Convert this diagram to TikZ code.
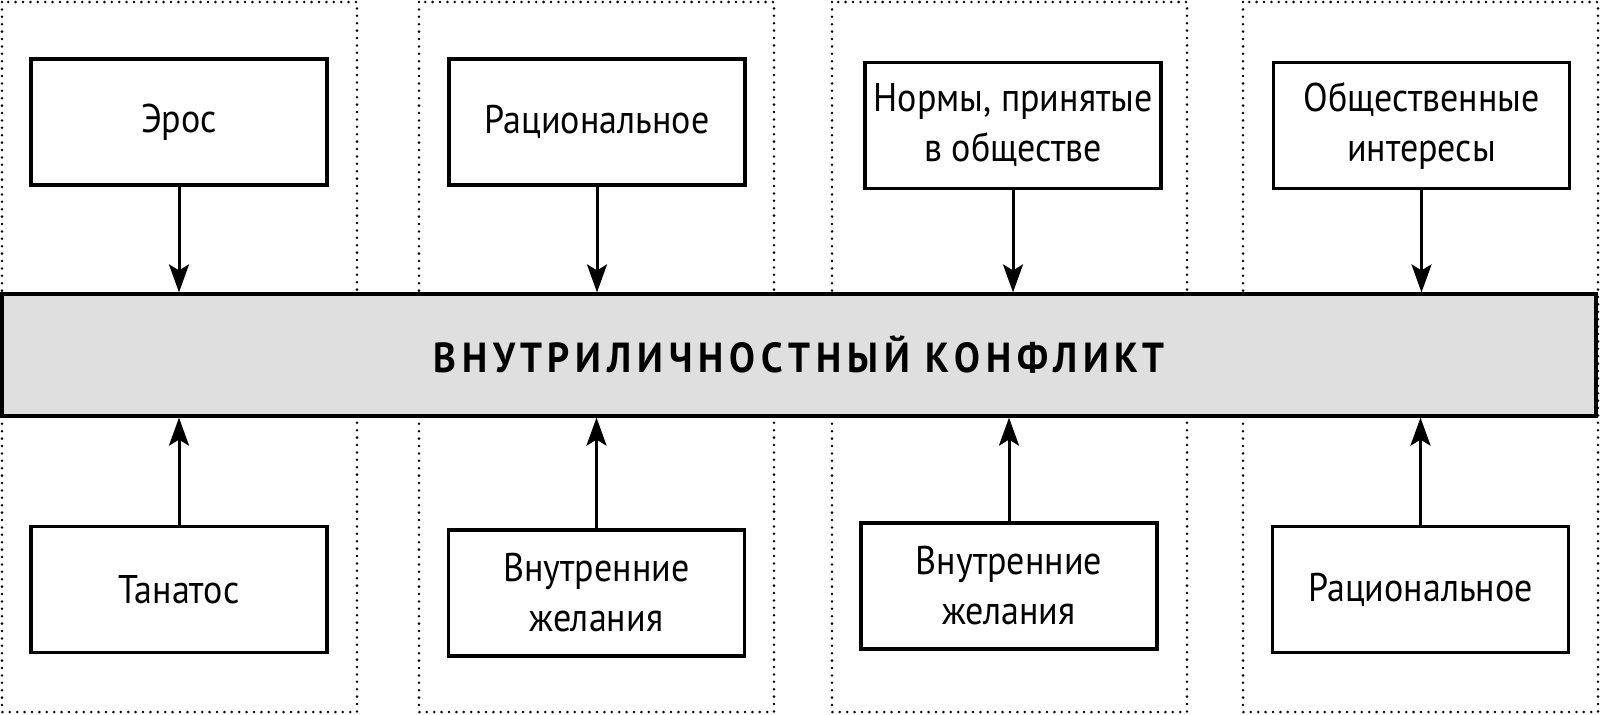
\documentclass[tikz,border=0pt]{standalone}
\usepackage{fontspec}
\setmainfont{PT Sans}[FakeStretch=0.9]
\newfontfamily\barfont{PT Sans}[FakeStretch=0.92,LetterSpace=14]
\usetikzlibrary{arrows.meta}

\begin{document}
\begin{tikzpicture}[x=0.5pt,y=-0.5pt]
  \tikzset{ItemStyle/.style = {shape          = rectangle,
                               draw, line width=1.8pt,
                               text           = black,
                               align          = center,
                               inner sep      = 0pt,
                               minimum width  = 148pt,
                               minimum height = 63pt,
                               font           = \fontsize{20}{25}\selectfont}}
  \tikzset{ConflictStyle/.style = {shape          = rectangle,
                                   draw, line width=1.6pt,
                                   fill           = barGray,
                                   minimum width  = 797pt,
                                   minimum height = 61pt,
                                   font           = \barfont\bfseries\fontsize{21}{25}\selectfont}}
  \tikzset{FrameStyle/.style = {draw=black, line width=1.4pt, line cap=round, dash pattern=on 0pt off 3.7pt}}
  \tikzset{ArrowStyle/.style = {line width=1.5pt, -{Stealth[length=14pt,width=10pt,inset=3pt]}}}
  \definecolor{barGray}{HTML}{DFDFDF}
  \useasboundingbox (0,0) rectangle (1600,714);
  %%% COLONNES %%%
  \foreach \x in {2,419,832,1243}
    \draw[FrameStyle] (\x,2) rectangle ++(355,710);
  %%% CONFLIT %%%
  \node[ConflictStyle] (conflict) at (799,355) {ВНУТРИЛИЧНОСТНЫЙ КОНФЛИКТ};
  %%% EN HAUT %%%
  \node[ItemStyle] (eros) at (179,122) {Эрос};
  \node[ItemStyle] (ratio1) at (597,122) {Рациональное};
  \node[ItemStyle] (norms) at (1013,125.5) {Нормы, принятые\\в обществе};
  \node[ItemStyle] (public) at (1421.5,125.5) {Общественные\\интересы};
  %%% EN BAS %%%
  \node[ItemStyle] (thanatos) at (179,589.5) {Танатос};
  \node[ItemStyle] (wish1) at (596.5,593) {Внутренние\\желания};
  \node[ItemStyle] (wish2) at (1009,586) {Внутренние\\желания};
  \node[ItemStyle] (ratio2) at (1420.5,589.5) {Рациональное};
  %
  \foreach \n in {eros,ratio1,norms,public}
    \draw[ArrowStyle] (\n.south) -- (\n.south |- conflict.north);
  \foreach \n in {thanatos,wish1,wish2,ratio2}
    \draw[ArrowStyle] (\n.north) -- (\n.north |- conflict.south);
\end{tikzpicture}
\end{document}
